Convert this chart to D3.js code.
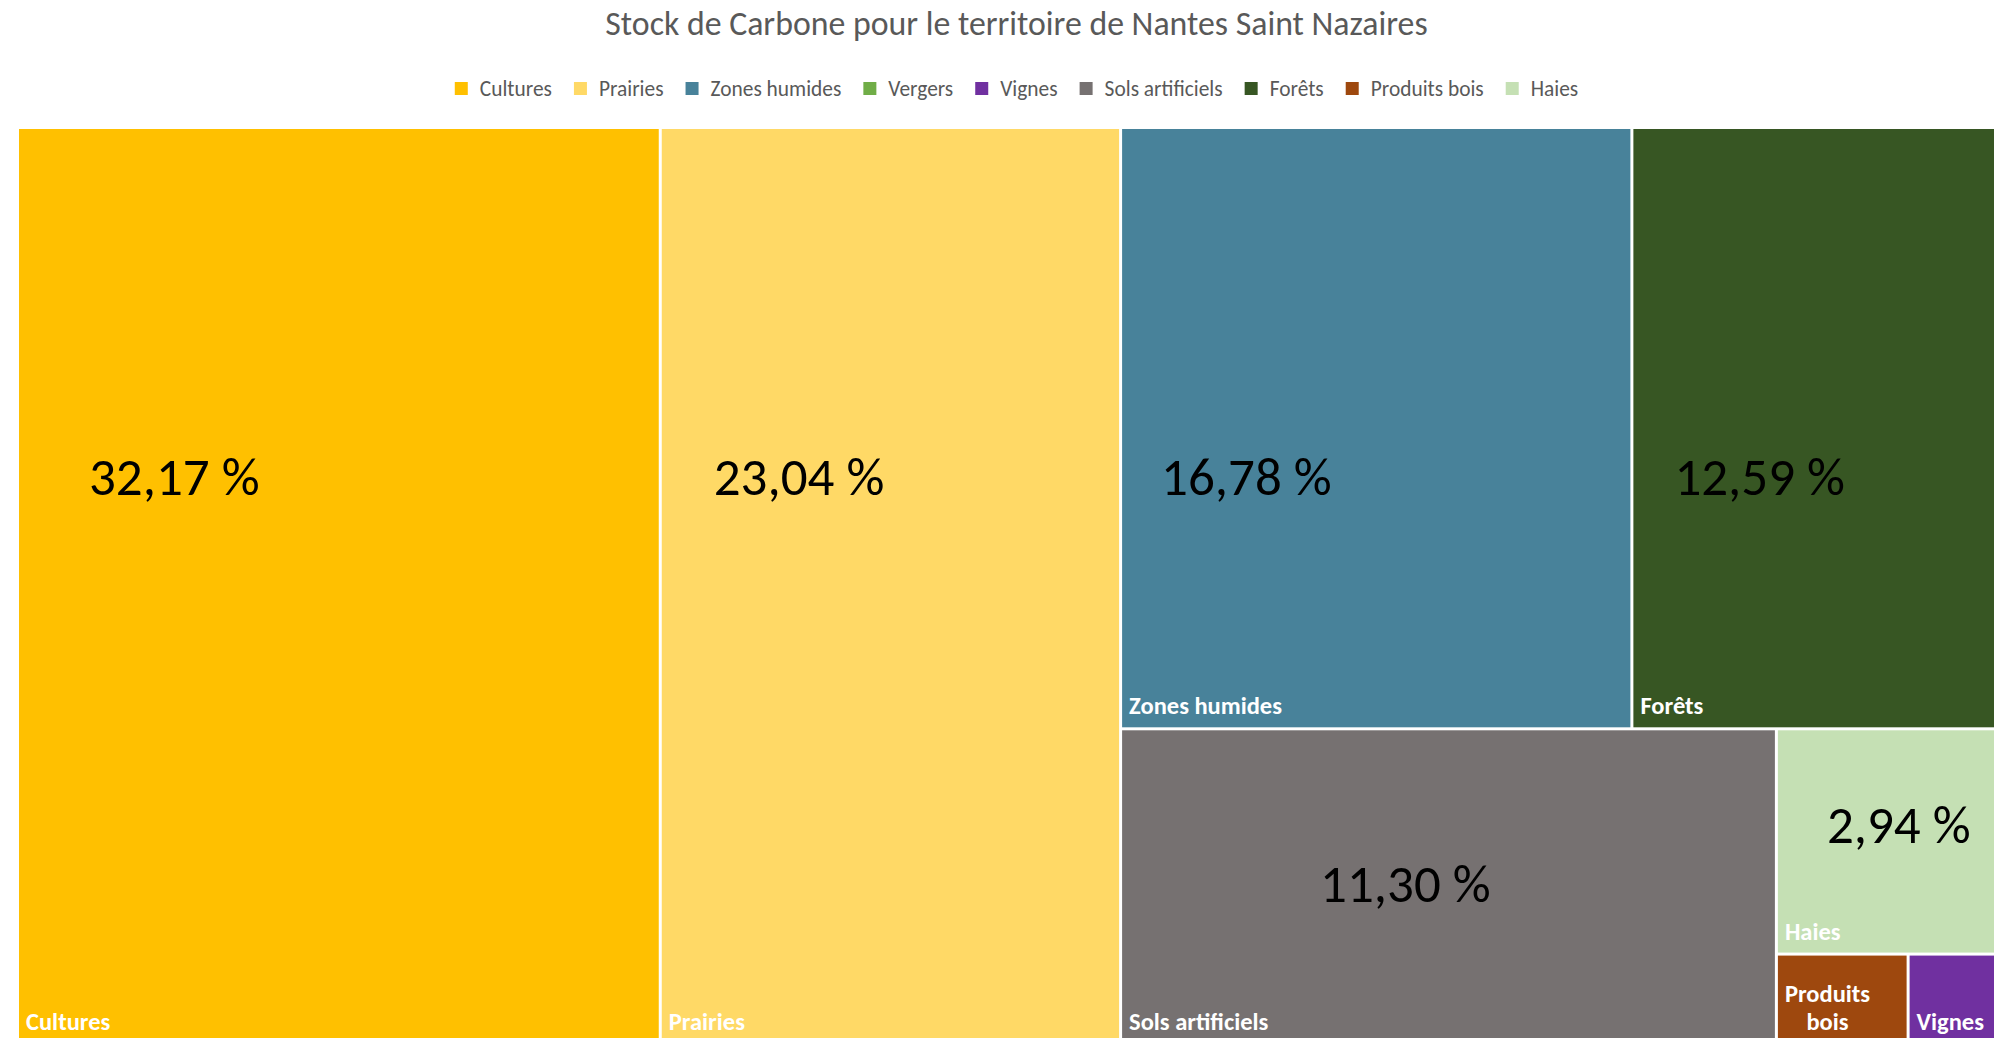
<!DOCTYPE html>
<html>
<head>
<meta charset="utf-8">
<script src="https://cdn.jsdelivr.net/npm/d3@7"></script>
<style>
  html, body { margin: 0; padding: 0; background: #ffffff; overflow: hidden; }
  svg { display: block; }
  text { font-family: Carlito, Lato, "Open Sans", sans-serif; }
</style>
</head>
<body>
<svg id="chart" width="1994" height="1038"></svg>
<script>
// Carbon stock shares by land use (percent of total)
const categories = ["Cultures", "Prairies", "Zones humides", "Vergers", "Vignes",
                    "Sols artificiels", "Forêts", "Produits bois", "Haies"];
const shares     = [32.17, 23.04, 16.78, 0.08, 0.45, 11.30, 12.59, 0.65, 2.94];
const colors     = ["#FFC000", "#FFD966", "#48829A", "#70AD47", "#7030A0",
                    "#767171", "#375623", "#9E480E", "#C5E0B4"];
const chartTitle = "Stock de Carbone pour le territoire de Nantes Saint Nazaires";

// Placement of the large percentage labels, relative to each tile's top-left corner
const pctLabelOffset = {
  "Cultures":         [70, 366],
  "Prairies":         [52, 366],
  "Zones humides":    [39, 366],
  "Forêts":           [41, 366],
  "Sols artificiels": [198, 172],
  "Haies":            [49, 113]
};

const svg = d3.select("#chart");
const plot = { x: 19, y: 129, w: 1995, h: 914 };

// Title
svg.append("text")
  .attr("x", plot.x + plot.w / 2)
  .attr("y", 35)
  .attr("text-anchor", "middle")
  .attr("fill", "#595959")
  .attr("font-size", 33.8)
  .text(chartTitle);

// Legend (centred over the plot area)
const legend = svg.append("g");
let lx = 0;
categories.forEach((c, i) => {
  const item = legend.append("g").attr("transform", `translate(${lx},0)`);
  item.append("rect").attr("x", 0).attr("y", 82).attr("width", 13).attr("height", 13)
    .attr("fill", colors[i]);
  const t = item.append("text").attr("x", 25).attr("y", 96)
    .attr("fill", "#595959").attr("font-size", 21.4).text(c);
  lx += 25 + t.node().getComputedTextLength() + 22;
});
const legendWidth = lx - 22;
legend.attr("transform", `translate(${plot.x + plot.w / 2 - legendWidth / 2},0)`);

// Treemap layout
const data = { children: categories.map((c, i) => ({ name: c, value: shares[i], color: colors[i] })) };
const root = d3.hierarchy(data).sum(d => d.value || 0).sort((a, b) => b.value - a.value);
d3.treemap()
  .tile(d3.treemapSquarify.ratio(1))
  .size([plot.w, plot.h])
  .paddingInner(3)(root);

const g = svg.append("g").attr("transform", `translate(${plot.x},${plot.y})`);
const cells = g.selectAll("g.cell").data(root.leaves()).join("g").attr("class", "cell");

cells.append("rect")
  .attr("x", d => d.x0).attr("y", d => d.y0)
  .attr("width", d => d.x1 - d.x0).attr("height", d => d.y1 - d.y0)
  .attr("fill", d => d.data.color);

const fmt = d3.format(".2f");

// Percentage labels
cells.filter(d => pctLabelOffset[d.data.name])
  .append("text")
  .attr("x", d => d.x0 + pctLabelOffset[d.data.name][0])
  .attr("y", d => d.y0 + pctLabelOffset[d.data.name][1])
  .attr("font-size", 53)
  .attr("fill", "#000000")
  .text(d => fmt(d.value).replace(".", ",") + " %");

// Category names, bottom-left of each tile, wrapped when too wide;
// tiles too small to hold a single word get no name
const lineH = 28;
const nameSize = 24.5;
cells.each(function (d) {
  const cell = d3.select(this);
  const avail = d.x1 - d.x0 - 14;
  const t = cell.append("text")
    .attr("fill", "#ffffff").attr("font-weight", "bold").attr("font-size", nameSize);
  t.text(d.data.name);
  if (t.node().getComputedTextLength() <= avail) {
    t.attr("x", d.x0 + 7).attr("y", d.y1 - 13);
    return;
  }
  t.text(null);
  const probe = cell.append("text").attr("font-weight", "bold").attr("font-size", nameSize);
  const words = d.data.name.split(" ");
  const lines = [];
  let cur = [];
  words.forEach(w => {
    const trial = cur.concat(w).join(" ");
    probe.text(trial);
    if (cur.length && probe.node().getComputedTextLength() > avail) {
      lines.push(cur.join(" "));
      cur = [w];
    } else cur.push(w);
  });
  lines.push(cur.join(" "));
  const widths = lines.map(l => { probe.text(l); return probe.node().getComputedTextLength(); });
  probe.remove();
  const blockW = d3.max(widths);
  if (blockW > avail) { t.remove(); return; }
  const cx = d.x0 + 7 + blockW / 2;
  lines.forEach((l, k) => {
    t.append("tspan")
      .attr("x", cx)
      .attr("y", d.y1 - 13 - (lines.length - 1 - k) * lineH)
      .attr("text-anchor", "middle")
      .text(l);
  });
});
</script>
</body>
</html>
